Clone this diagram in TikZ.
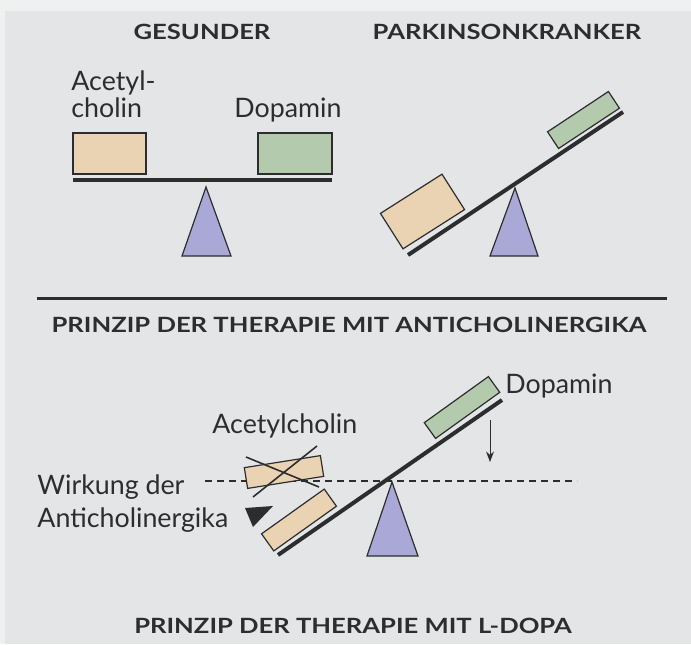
\documentclass[tikz,border=0pt]{standalone}
\usepackage{fontspec}
\setmainfont{Lato}
\newfontfamily\headfont[FakeStretch=1.22]{Lato}
\usetikzlibrary{arrows.meta, positioning}
\definecolor{paper}{RGB}{227,229,231}
\definecolor{margin}{RGB}{239,240,240}
\definecolor{ink}{RGB}{45,45,48}
\definecolor{acetyl}{RGB}{233,211,178}
\definecolor{dopa}{RGB}{180,202,172}
\definecolor{pivot}{RGB}{170,168,214}

\begin{document}
\begin{tikzpicture}[
  x=0.5pt, y=-0.5pt, >=Stealth,
  title/.style={font=\headfont\fontsize{10.5}{12}\selectfont\bfseries, text=ink},
  lbl/.style={font=\fontsize{13.4}{16}\selectfont, text=ink,
              anchor=base west, inner sep=0pt},
  weight/.style={draw=ink, line width=0.6pt, inner sep=0pt},
  achbox/.style={weight, fill=acetyl},
  dabox/.style={weight, fill=dopa},
  beam/.style={draw=ink, line width=2pt},
  fulcrum/.style={draw=ink, line width=0.6pt, fill=pivot},
]
\useasboundingbox (0,0) rectangle (691,644);
\fill[margin] (0,0) rectangle (691,644);
\fill[paper] (5,11) rectangle (691,644);

% healthy person: balanced
\node[title] (healthy) at (202,32) {GESUNDER};
\node[lbl] (achA) at (71,90)  {Acetyl-};
\node[lbl] (achB) at (71,117) {cholin};
\node[lbl] (daA)  at (234,117) {Dopamin};
\node[achbox, minimum width=36.5pt, minimum height=20.5pt] (ach1) at (109.5,153.5) {};
\node[dabox, minimum width=37pt, minimum height=20.5pt] (da1) at (295,153.5) {};
\draw[beam] (73,180) -- (332,180);
\filldraw[fulcrum] (206,187) -- (231,256) -- (182,256) -- cycle;

% parkinson patient: tilted
\node[title] (patient) at (507,32) {PARKINSONKRANKER};
\node[achbox, minimum width=36.5pt, minimum height=21pt, rotate=32.5] (ach2) at (422.5,211.5) {};
\node[dabox, minimum width=36.5pt, minimum height=10pt, rotate=33.5] (da2) at (583.5,120) {};
\draw[beam] (408,255) -- (623,112);
\filldraw[fulcrum] (515,188) -- (538,256) -- (490,256) -- cycle;

\draw[ink, line width=1.5pt] (37,298) -- (667,298);
\node[title] (anticho) at (349,325) {PRINZIP DER THERAPIE MIT ANTICHOLINERGIKA};

% therapy with anticholinergics
\draw[ink, line width=0.6pt, dash pattern=on 3.5pt off 2.5pt] (205,481) -- (577,481);
\node[achbox, minimum width=38.5pt, minimum height=10.5pt, rotate=9] (ach3) at (284,472) {};
\draw[ink, line width=0.8pt] (246,457) -- (319,487) (253,497) -- (317,446);
\node[achbox, minimum width=38.5pt, minimum height=10.5pt, rotate=35.5] (ach4) at (299,520) {};
\node[dabox, minimum width=39.5pt, minimum height=9.7pt, rotate=35.7] (da3) at (462,407.5) {};
\draw[beam] (278,555) -- (502,400);
\filldraw[fulcrum] (392,482) -- (418,556) -- (367,556) -- cycle;
\coordinate (dropA) at (490,420);
\coordinate (dropB) at (490,462);
\draw[->, ink, line width=0.5pt] (dropA) -- (dropB);
\fill[ink] (245,508) -- (273,506) -- (253,527) -- cycle;
\node[lbl] (achC) at (212,433) {Acetylcholin};
\node[lbl] (daC)  at (505,393) {Dopamin};
\node[lbl] (effA) at (37,494) {Wirkung der};
\node[lbl] (effB) at (37,527) {Anticholinergika};

\node[title] (ldopa) at (353,626) {PRINZIP DER THERAPIE MIT L-DOPA};
\end{tikzpicture}
\end{document}
